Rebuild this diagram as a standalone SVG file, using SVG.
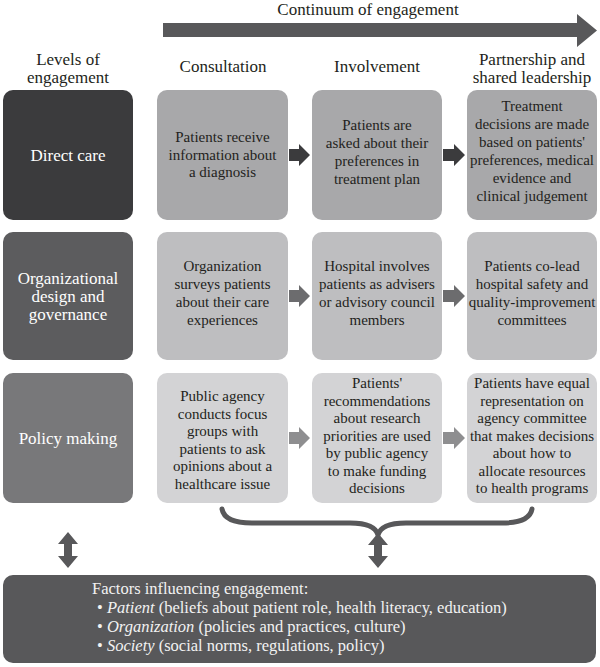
<svg xmlns="http://www.w3.org/2000/svg" width="600" height="667" viewBox="0 0 600 667" font-family="'Liberation Serif', 'Times New Roman', Times, serif">
<style>
text{font-family:'Liberation Serif', 'Times New Roman', Times, serif;text-anchor:middle;}
.hd{font-size:17px;fill:#231f20;}
.lv{font-size:17px;fill:#ffffff;}
.ct{font-size:15px;fill:#231f20;}
.ft{font-size:16.5px;fill:#f2f2f2;text-anchor:start;}
.d1{fill:#3b3b3d;} .d2{fill:#5c5c5e;} .d3{fill:#78787a;}
.c1{fill:#a8a8aa;} .c2{fill:#bebec0;} .c3{fill:#d3d3d5;}
.dk{fill:#58585a;}
</style>
<rect width="600" height="667" fill="#ffffff"/>
<g id="headers">
<text class="hd" x="368" y="15">Continuum of engagement</text>
<text class="hd" x="68" y="65">Levels of</text>
<text class="hd" x="68" y="83">engagement</text>
<text class="hd" x="223" y="72">Consultation</text>
<text class="hd" x="377" y="72">Involvement</text>
<text class="hd" x="532" y="65">Partnership and</text>
<text class="hd" x="532" y="83">shared leadership</text>
</g>
<g id="connectors">
<path class="dk" d="M163,23 H577 V14 L597,30.5 L577,47 V37 H163 Z"/>
<path class="d1" d="M289,149 H299 V144 L310,155 L299,166 V161 H289 Z"/>
<path class="d1" d="M443,149 H454 V144 L465,155 L454,166 V161 H443 Z"/>
<path fill="#6c6c6e" d="M289,290 H299 V285 L310,296 L299,307 V302 H289 Z"/>
<path fill="#6c6c6e" d="M443,290 H454 V285 L465,296 L454,307 V302 H443 Z"/>
<path fill="#8e8e90" d="M289,432 H299 V427 L310,438 L299,449 V444 H289 Z"/>
<path fill="#8e8e90" d="M443,432 H454 V427 L465,438 L454,449 V444 H443 Z"/>
<path d="M222,509 C224,520 236,523 252,523 L350,523 C366,523 376,527 378,535 M532,509 C530,520 518,523 502,523 L406,523 C390,523 380,527 378,535" fill="none" stroke="#58585a" stroke-width="5" stroke-linecap="round"/>
<path class="dk" d="M68,532 L78,544 L72,544 L72,556 L78,556 L68,568 L58,556 L64,556 L64,544 L58,544 Z"/>
<path class="dk" d="M378,533 L388,545 L382,545 L382,556 L388,556 L378,568 L368,556 L374,556 L374,545 L368,545 Z"/>
</g>
<g id="direct-care">
<rect class="d1" x="3" y="90" width="130" height="130" rx="10"/>
<text class="lv" x="68" y="161">Direct care</text>
</g>
<g id="dc-consultation">
<rect class="c1" x="157" y="90" width="131" height="130" rx="10"/>
<text class="ct" x="222.5" y="142">Patients receive</text>
<text class="ct" x="222.5" y="160">information about</text>
<text class="ct" x="222.5" y="177">a diagnosis</text>
</g>
<g id="dc-involvement">
<rect class="c1" x="312" y="90" width="130" height="130" rx="10"/>
<text class="ct" x="377" y="130">Patients are</text>
<text class="ct" x="377" y="148">asked about their</text>
<text class="ct" x="377" y="166">preferences in</text>
<text class="ct" x="377" y="184">treatment plan</text>
</g>
<g id="dc-partnership">
<rect class="c1" x="467" y="90" width="130" height="130" rx="10"/>
<text class="ct" x="532" y="111">Treatment</text>
<text class="ct" x="532" y="129">decisions are made</text>
<text class="ct" x="532" y="147">based on patients'</text>
<text class="ct" x="532" y="165">preferences, medical</text>
<text class="ct" x="532" y="183">evidence and</text>
<text class="ct" x="532" y="201">clinical judgement</text>
</g>
<g id="org-design">
<rect class="d2" x="3" y="232" width="130" height="128" rx="10"/>
<text class="lv" x="68" y="284">Organizational</text>
<text class="lv" x="68" y="302">design and</text>
<text class="lv" x="68" y="320">governance</text>
</g>
<g id="org-consultation">
<rect class="c2" x="157" y="232" width="131" height="128" rx="10"/>
<text class="ct" x="222.5" y="271">Organization</text>
<text class="ct" x="222.5" y="289">surveys patients</text>
<text class="ct" x="222.5" y="307">about their care</text>
<text class="ct" x="222.5" y="325">experiences</text>
</g>
<g id="org-involvement">
<rect class="c2" x="312" y="232" width="130" height="128" rx="10"/>
<text class="ct" x="377" y="271">Hospital involves</text>
<text class="ct" x="377" y="289">patients as advisers</text>
<text class="ct" x="377" y="307">or advisory council</text>
<text class="ct" x="377" y="325">members</text>
</g>
<g id="org-partnership">
<rect class="c2" x="467" y="232" width="130" height="128" rx="10"/>
<text class="ct" x="532" y="271">Patients co-lead</text>
<text class="ct" x="532" y="289">hospital safety and</text>
<text class="ct" x="532" y="307">quality-improvement</text>
<text class="ct" x="532" y="325">committees</text>
</g>
<g id="policy-making">
<rect class="d3" x="3" y="373" width="130" height="130" rx="10"/>
<text class="lv" x="68" y="444">Policy making</text>
</g>
<g id="policy-consultation">
<rect class="c3" x="157" y="373" width="131" height="130" rx="10"/>
<text class="ct" x="222.5" y="401">Public agency</text>
<text class="ct" x="222.5" y="418.5">conducts focus</text>
<text class="ct" x="222.5" y="436">groups with</text>
<text class="ct" x="222.5" y="453.5">patients to ask</text>
<text class="ct" x="222.5" y="471">opinions about a</text>
<text class="ct" x="222.5" y="488.5">healthcare issue</text>
</g>
<g id="policy-involvement">
<rect class="c3" x="312" y="373" width="130" height="130" rx="10"/>
<text class="ct" x="377" y="388">Patients'</text>
<text class="ct" x="377" y="405.5">recommendations</text>
<text class="ct" x="377" y="423">about research</text>
<text class="ct" x="377" y="440.5">priorities are used</text>
<text class="ct" x="377" y="458">by public agency</text>
<text class="ct" x="377" y="475.5">to make funding</text>
<text class="ct" x="377" y="493">decisions</text>
</g>
<g id="policy-partnership">
<rect class="c3" x="467" y="373" width="130" height="130" rx="10"/>
<text class="ct" x="532" y="388">Patients have equal</text>
<text class="ct" x="532" y="405.5">representation on</text>
<text class="ct" x="532" y="423">agency committee</text>
<text class="ct" x="532" y="440.5">that makes decisions</text>
<text class="ct" x="532" y="458">about how to</text>
<text class="ct" x="532" y="475.5">allocate resources</text>
<text class="ct" x="532" y="493">to health programs</text>
</g>
<g id="factors">
<rect class="dk" x="3" y="575" width="593" height="88" rx="10"/>
<text class="ft" x="92" y="594">Factors influencing engagement:</text>
<text class="ft" x="97" y="613">• <tspan font-style="italic">Patient</tspan> (beliefs about patient role, health literacy, education)</text>
<text class="ft" x="97" y="632">• <tspan font-style="italic">Organization</tspan> (policies and practices, culture)</text>
<text class="ft" x="97" y="651">• <tspan font-style="italic">Society</tspan> (social norms, regulations, policy)</text>
</g>
</svg>
